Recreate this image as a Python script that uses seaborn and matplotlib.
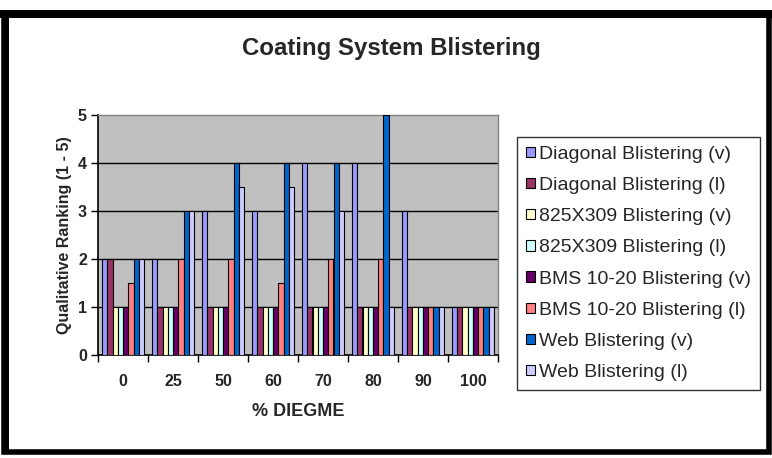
import matplotlib
matplotlib.use("Agg")
import matplotlib.pyplot as plt
import seaborn as sns
import pandas as pd
from matplotlib.patches import Rectangle, Patch

categories = ["0", "25", "50", "60", "70", "80", "90", "100"]
series_names = ["Diagonal Blistering (v)", "Diagonal Blistering (l)",
                "825X309 Blistering (v)", "825X309 Blistering (l)",
                "BMS 10-20 Blistering (v)", "BMS 10-20 Blistering (l)",
                "Web Blistering (v)", "Web Blistering (l)"]
diag_v = [2, 2, 3, 3, 4, 4, 3, 1]
diag_l = [2, 1, 1, 1, 1, 1, 1, 1]
x825_v = [1, 1, 1, 1, 1, 1, 1, 1]
x825_l = [1, 1, 1, 1, 1, 1, 1, 1]
bms_v = [1, 1, 1, 1, 1, 1, 1, 1]
bms_l = [1.5, 2, 2, 1.5, 2, 2, 1, 1]
web_v = [2, 3, 4, 4, 4, 5, 1, 1]
web_l = [2, 3, 3.5, 3.5, 3, 1, 1, 1]
colors = ["#9999FF", "#993366", "#FFFFCC", "#CCFFFF",
          "#660066", "#FF8080", "#0066CC", "#CCCCFF"]

all_vals = [diag_v, diag_l, x825_v, x825_l, bms_v, bms_l, web_v, web_l]
rows = []
for name, vals in zip(series_names, all_vals):
    for c, v in zip(categories, vals):
        rows.append({"cat": c, "series": name, "value": v})
df = pd.DataFrame(rows)

sns.set_theme(style="white")
plt.rcParams["font.family"] = ["Liberation Sans", "DejaVu Sans"]

W, H = 772, 458
fig = plt.figure(figsize=(W / 100, H / 100), dpi=100)
fig.patch.set_facecolor("white")

l, r, t, b = 98, 498, 115, 355
ax = fig.add_axes([l / W, 1 - b / H, (r - l) / W, (b - t) / H])
ax.set_facecolor("#C0C0C0")

sns.barplot(data=df, x="cat", y="value", hue="series", order=categories,
            hue_order=series_names, palette=colors, width=0.84,
            edgecolor="black", linewidth=0.8, saturation=1, ax=ax,
            legend=False, zorder=3)

ax.set_ylim(0, 5)
ax.set_xlim(-0.5, len(categories) - 0.5)
ax.set_yticks([0, 1, 2, 3, 4, 5])
ax.set_yticklabels(["0", "1", "2", "3", "4", "5"], fontsize=11.5,
                   fontweight="bold")
for y in [1, 2, 3, 4]:
    ax.axhline(y, color="black", lw=1, zorder=1)

n = len(categories)
ax.set_xticks([k - 0.5 for k in range(n + 1)])
ax.set_xticklabels([""] * (n + 1))
ax.set_xticks(range(n), minor=True)
ax.set_xticklabels(categories, minor=True, fontsize=11.5, fontweight="bold")
ax.tick_params(axis="x", which="major", length=5, width=1, color="black",
               direction="out", bottom=True)
ax.tick_params(axis="x", which="minor", length=0, pad=14, bottom=True)
ax.tick_params(axis="y", which="major", length=5, width=1, color="black",
               direction="out", left=True, pad=3)

for s in ["left", "bottom"]:
    ax.spines[s].set_color("black")
    ax.spines[s].set_linewidth(1.2)
for s in ["top", "right"]:
    ax.spines[s].set_color("#808080")
    ax.spines[s].set_linewidth(1)

ax.set_xlabel("% DIEGME", fontsize=13, fontweight="bold", labelpad=10)
ax.set_ylabel("Qualitative Ranking (1 - 5)", fontsize=11.5,
              fontweight="bold", labelpad=4)

fig.text(391 / W, 1 - 48 / H, "Coating System Blistering", ha="center",
         va="center", fontsize=17.3, fontweight="bold")

handles = [Patch(facecolor=c, edgecolor="black", linewidth=0.8, label=nm)
           for c, nm in zip(colors, series_names)]
leg = fig.legend(handles=handles, loc="upper left",
                 bbox_to_anchor=(517 / W, 1 - 137 / H), frameon=True,
                 fontsize=14, handlelength=0.45, handleheight=0.45,
                 handletextpad=0.25, labelspacing=0.73, borderpad=0.45,
                 fancybox=False, borderaxespad=0)
leg.get_frame().set_edgecolor("black")
leg.get_frame().set_linewidth(1)

# outer chart frame
fig.patches.append(Rectangle((4 / W, 1 - 452 / H), 765 / W, 438 / H,
                             transform=fig.transFigure, fill=False,
                             edgecolor="black", lw=4))
fig.patches.append(Rectangle((0, 1 - 18 / H), 1, 8 / H,
                             transform=fig.transFigure, facecolor="black",
                             edgecolor="none"))
fig.patches.append(Rectangle((2 / W, 1 - 452 / H), 7 / W, 440 / H,
                             transform=fig.transFigure, facecolor="black",
                             edgecolor="none"))

fig.savefig("out.png", dpi=100)
